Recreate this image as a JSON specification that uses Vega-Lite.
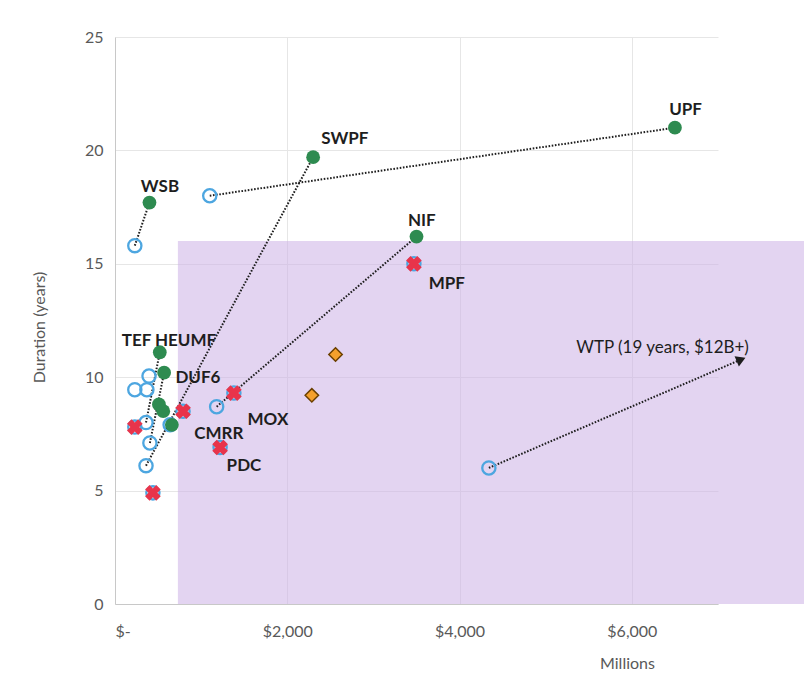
{
  "$schema": "https://vega.github.io/schema/vega-lite/v6.json",
  "width": 603,
  "height": 567,
  "autosize": {"type": "none"},
  "padding": {"left": 115, "top": 37, "right": 86, "bottom": 93},
  "background": "white",
  "config": {
    "font": "Lato",
    "view": {"stroke": null},
    "axis": {
      "labelFont": "Lato",
      "labelFontSize": 16,
      "labelColor": "#595959",
      "titleFont": "Lato",
      "titleFontSize": 16,
      "titleFontWeight": "normal",
      "titleColor": "#595959",
      "gridColor": "#e6e6e6",
      "gridWidth": 1,
      "domainColor": "#c8c8c8",
      "ticks": false
    }
  },
  "datasets": {
    "points": [
      {"name": "UPF", "cost": 6500, "years": 21.0, "status": "actual"},
      {"name": "SWPF", "cost": 2300, "years": 19.7, "status": "actual"},
      {"name": "WSB", "cost": 400, "years": 17.7, "status": "actual"},
      {"name": "NIF", "cost": 3500, "years": 16.2, "status": "actual"},
      {"name": "TEF", "cost": 520, "years": 11.1, "status": "actual"},
      {"name": "DUF6", "cost": 570, "years": 10.2, "status": "actual"},
      {"name": "A1", "cost": 510, "years": 8.8, "status": "actual"},
      {"name": "A2", "cost": 560, "years": 8.5, "status": "actual"},
      {"name": "A3", "cost": 660, "years": 7.9, "status": "actual"},
      {"name": "WSB", "cost": 230, "years": 15.8, "status": "original"},
      {"name": "UPF", "cost": 1100, "years": 18.0, "status": "original"},
      {"name": "O1", "cost": 395, "years": 10.05, "status": "original"},
      {"name": "O2", "cost": 230, "years": 9.45, "status": "original"},
      {"name": "O3", "cost": 370, "years": 9.45, "status": "original"},
      {"name": "TEF", "cost": 360, "years": 8.0, "status": "original"},
      {"name": "DUF6", "cost": 405, "years": 7.1, "status": "original"},
      {"name": "SWPF", "cost": 360, "years": 6.1, "status": "original"},
      {"name": "O4", "cost": 640, "years": 7.9, "status": "original"},
      {"name": "NIF", "cost": 1180, "years": 8.7, "status": "original"},
      {"name": "WTP", "cost": 4340, "years": 6.0, "status": "original"},
      {"name": "MPF", "cost": 3470, "years": 15.0, "status": "cancelled"},
      {"name": "MOX", "cost": 1380, "years": 9.3, "status": "cancelled"},
      {"name": "CMRR", "cost": 790, "years": 8.5, "status": "cancelled"},
      {"name": "PDC", "cost": 1220, "years": 6.9, "status": "cancelled"},
      {"name": "C1", "cost": 230, "years": 7.8, "status": "cancelled"},
      {"name": "C2", "cost": 440, "years": 4.9, "status": "cancelled"},
      {"name": "P1", "cost": 2560, "years": 11.0, "status": "planned"},
      {"name": "P2", "cost": 2285, "years": 9.2, "status": "planned"}
    ],
    "links": [
      {"name": "WSB", "cost": 230, "years": 15.8, "cost2": 400, "years2": 17.7, "arrow": false},
      {"name": "UPF", "cost": 1100, "years": 18.0, "cost2": 6500, "years2": 21.0, "arrow": false},
      {"name": "SWPF", "cost": 360, "years": 6.1, "cost2": 2300, "years2": 19.7, "arrow": false},
      {"name": "NIF", "cost": 1180, "years": 8.7, "cost2": 3500, "years2": 16.2, "arrow": false},
      {"name": "TEF", "cost": 360, "years": 8.0, "cost2": 520, "years2": 11.1, "arrow": false},
      {"name": "DUF6", "cost": 405, "years": 7.1, "cost2": 570, "years2": 10.2, "arrow": false},
      {"name": "WTP", "cost": 4340, "years": 6.0, "cost2": 7268, "years2": 10.78, "arrow": true}
    ],
    "region": [
      {"cost": 730, "years": 0, "cost2": 8000, "years2": 16}
    ],
    "labels": [
      {"text": "UPF", "cost": 6624, "years": 21.8, "kind": "bold"},
      {"text": "SWPF", "cost": 2668, "years": 20.5, "kind": "bold"},
      {"text": "WSB", "cost": 522, "years": 18.4, "kind": "bold"},
      {"text": "NIF", "cost": 3561, "years": 16.9, "kind": "bold"},
      {"text": "MPF", "cost": 3852, "years": 14.1, "kind": "bold"},
      {"text": "TEF HEUMF", "cost": 626, "years": 11.6, "kind": "bold"},
      {"text": "DUF6", "cost": 963, "years": 9.96, "kind": "bold"},
      {"text": "MOX", "cost": 1775, "years": 8.1, "kind": "bold"},
      {"text": "CMRR", "cost": 1206, "years": 7.5, "kind": "bold"},
      {"text": "PDC", "cost": 1497, "years": 6.1, "kind": "bold"},
      {"text": "WTP (19 years, $12B+)", "cost": 6357, "years": 11.3, "kind": "plain"}
    ]
  },
  "layer": [
    {
      "data": {"name": "region"},
      "mark": {"type": "rect", "fill": "#ccb0e6", "opacity": 0.55},
      "encoding": {
        "x": {
          "field": "cost", "type": "quantitative",
          "scale": {"domain": [0, 7000], "nice": false, "zero": true},
          "axis": {
            "title": "Millions",
            "values": [0, 2000, 4000, 6000],
            "labelExpr": "datum.value == 0 ? '$-' : '$' + format(datum.value, ',')",
            "labelPadding": 19,
            "titleX": 512,
            "titleY": 59,
            "titleAlign": "center",
            "titleBaseline": "middle"
          }
        },
        "x2": {"field": "cost2"},
        "y": {
          "field": "years", "type": "quantitative",
          "scale": {"domain": [0, 25], "nice": false},
          "axis": {
            "title": "Duration (years)",
            "values": [0, 5, 10, 15, 20, 25],
            "labelPadding": 12,
            "titleX": -68,
            "titleY": 290,
            "titleAlign": "center"
          }
        },
        "y2": {"field": "years2"}
      }
    },
    {
      "data": {"name": "links"},
      "mark": {"type": "rule", "color": "#1e1e1e", "strokeWidth": 2, "strokeDash": [1.6, 1.6]},
      "encoding": {
        "x": {"field": "cost", "type": "quantitative"},
        "y": {"field": "years", "type": "quantitative"},
        "x2": {"field": "cost2"},
        "y2": {"field": "years2"}
      }
    },
    {
      "data": {"name": "links"},
      "transform": [{"filter": "datum.arrow"}],
      "mark": {"type": "point", "shape": "triangle-up", "filled": true, "color": "#1e1e1e", "size": 120, "angle": 67, "opacity": 1},
      "encoding": {
        "x": {"field": "cost2", "type": "quantitative"},
        "y": {"field": "years2", "type": "quantitative"}
      }
    },
    {
      "data": {"name": "points"},
      "transform": [{"filter": "datum.status == 'original' || datum.status == 'cancelled'"}],
      "mark": {"type": "point", "shape": "circle", "filled": false, "stroke": "#4da6e0", "strokeWidth": 2.3, "size": 175, "opacity": 1},
      "encoding": {
        "x": {"field": "cost", "type": "quantitative"},
        "y": {"field": "years", "type": "quantitative"}
      }
    },
    {
      "data": {"name": "points"},
      "transform": [{"filter": "datum.status == 'actual'"}],
      "mark": {"type": "circle", "color": "#2e8b50", "size": 190, "opacity": 1},
      "encoding": {
        "x": {"field": "cost", "type": "quantitative"},
        "y": {"field": "years", "type": "quantitative"}
      }
    },
    {
      "data": {"name": "points"},
      "transform": [{"filter": "datum.status == 'cancelled'"}],
      "mark": {"type": "point", "shape": "cross", "angle": 45, "filled": true, "color": "#e8344b", "size": 250, "opacity": 1},
      "encoding": {
        "x": {"field": "cost", "type": "quantitative"},
        "y": {"field": "years", "type": "quantitative"}
      }
    },
    {
      "data": {"name": "points"},
      "transform": [{"filter": "datum.status == 'planned'"}],
      "mark": {"type": "point", "shape": "diamond", "filled": true, "fill": "#f4a02c", "stroke": "#6b4000", "strokeWidth": 1.5, "size": 180, "opacity": 1},
      "encoding": {
        "x": {"field": "cost", "type": "quantitative"},
        "y": {"field": "years", "type": "quantitative"}
      }
    },
    {
      "data": {"name": "labels"},
      "transform": [{"filter": "datum.kind == 'bold'"}],
      "mark": {"type": "text", "font": "Lato", "fontSize": 17, "fontWeight": "bold", "color": "#1e1e1e", "align": "center", "baseline": "middle"},
      "encoding": {
        "x": {"field": "cost", "type": "quantitative"},
        "y": {"field": "years", "type": "quantitative"},
        "text": {"field": "text"}
      }
    },
    {
      "data": {"name": "labels"},
      "transform": [{"filter": "datum.kind == 'plain'"}],
      "mark": {"type": "text", "font": "Lato", "fontSize": 17, "color": "#1e1e1e", "align": "center", "baseline": "middle"},
      "encoding": {
        "x": {"field": "cost", "type": "quantitative"},
        "y": {"field": "years", "type": "quantitative"},
        "text": {"field": "text"}
      }
    }
  ]
}
